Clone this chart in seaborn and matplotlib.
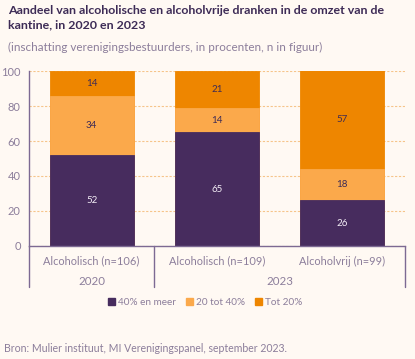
import numpy as np
import pandas as pd
import seaborn as sns
import matplotlib.pyplot as plt
from matplotlib.patches import Patch
from matplotlib.lines import Line2D

# data
groups = ['Alcoholisch (n=106)', 'Alcoholisch (n=109)', 'Alcoholvrij (n=99)']
years = ['2020', '2023']
meer40 = [52, 65, 26]
tot40 = [34, 14, 18]
tot20 = [14, 21, 57]
series_names = ['40% en meer', '20 tot 40%', 'Tot 20%']

bg = '#FFF9F3'
purple = '#472C5E'
lorange = '#FBA94B'
orange = '#EE8600'
txtgray = '#8C7E9B'
dark = '#3D2B56'

sns.set_theme(style='white')
plt.rcParams['font.family'] = ['Lato', 'DejaVu Sans']

df = pd.DataFrame({'groep': groups, 'meer40': meer40, 'tot40': tot40, 'tot20': tot20})
df['c1'] = df['meer40']
df['c2'] = df['meer40'] + df['tot40']
df['c3'] = df['c2'] + df['tot20']

fig = plt.figure(figsize=(4.15, 3.59), dpi=100, facecolor=bg)
ax = fig.add_axes([0.0699, 0.3148, 0.9061, 0.4874])
ax.set_facecolor(bg)

for col, c in [('c3', orange), ('c2', lorange), ('c1', purple)]:
    sns.barplot(data=df, x='groep', y=col, color=c, width=0.67, ax=ax,
                saturation=1, edgecolor=c, linewidth=0.6)

# value labels
for i in range(len(groups)):
    lows = [0, df['c1'][i], df['c2'][i]]
    vals = [meer40[i], tot40[i], tot20[i]]
    for j, (lo, v) in enumerate(zip(lows, vals)):
        ax.text(i, lo + v / 2, str(v), ha='center', va='center', fontsize=7,
                color='#F2ECF5' if j == 0 else dark)

ax.set_ylim(0, 100)
ax.set_xlim(-0.5, 2.5)
ax.set_yticks([0, 20, 40, 60, 80, 100])
ax.yaxis.grid(True, color='#F6C48A', linestyle=(0, (2, 1.5)), linewidth=0.8)
ax.set_axisbelow(True)
ax.tick_params(axis='y', length=0, labelsize=8, labelcolor=txtgray, pad=6)
ax.tick_params(axis='x', length=0, labelsize=7.9, labelcolor=txtgray, pad=7)
ax.set_xlabel('')
ax.set_ylabel('')
for s in ['top', 'right']:
    ax.spines[s].set_visible(False)
ax.spines['left'].set_color('#7D6A93')
ax.spines['bottom'].set_color('#7D6A93')
ax.spines['left'].set_linewidth(1)
ax.spines['bottom'].set_linewidth(1)

# year labels and separators
trans = ax.get_xaxis_transform()
ax.text(0, -0.205, years[0], transform=trans, ha='center', va='center',
        fontsize=8.3, color=txtgray)
ax.text(1.5, -0.205, years[1], transform=trans, ha='center', va='center',
        fontsize=8.3, color=txtgray)
for xs in [-0.5, 0.5, 2.5]:
    ax.add_line(Line2D([xs, xs], [0, -0.235], transform=trans, color='#7D6A93',
                       linewidth=1, clip_on=False))

handles = [Patch(facecolor=c, edgecolor=c) for c in [purple, lorange, orange]]
fig.legend(handles, series_names, loc='center', bbox_to_anchor=(0.495, 0.158),
           ncol=3, frameon=False, fontsize=7.2, labelcolor=txtgray,
           handlelength=0.7, handleheight=0.7, handletextpad=0.3, columnspacing=1.0)

fig.text(0.02, 0.985, 'Aandeel van alcoholische en alcoholvrije dranken in de omzet van de\nkantine, in 2020 en 2023',
         ha='left', va='top', fontsize=8.9, fontweight='bold', color=dark, linespacing=1.35)
fig.text(0.02, 0.868, '(inschatting verenigingsbestuurders, in procenten, n in figuur)',
         ha='left', va='center', fontsize=8.4, color=txtgray)
fig.text(0.009, 0.028, 'Bron: Mulier instituut, MI Verenigingspanel, september 2023.',
         ha='left', va='center', fontsize=7.6, color=txtgray)

fig.savefig('out.png', dpi=100, facecolor=bg)
